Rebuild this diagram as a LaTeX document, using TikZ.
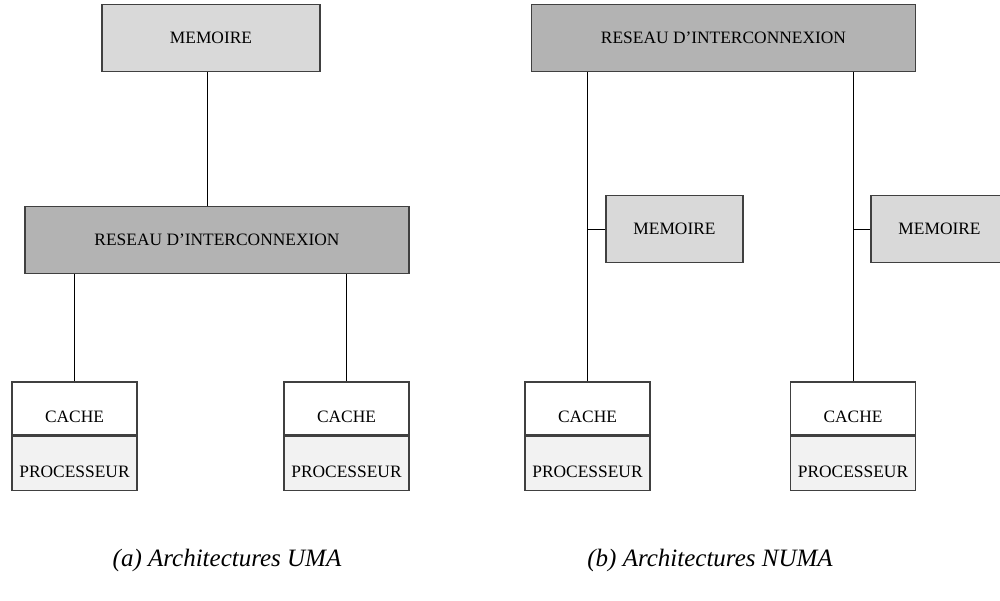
\documentclass[tikz,border=0pt]{standalone}
\usepackage{fontspec}
\setmainfont{Liberation Serif}
\usetikzlibrary{positioning}
\definecolor{memgray}{HTML}{D9D9D9}
\definecolor{resgray}{HTML}{B3B3B3}
\definecolor{procgray}{HTML}{F2F2F2}
\definecolor{edgegray}{HTML}{404040}
\tikzset{
    boxn/.style = {rectangle, draw=edgegray, line width=0.8pt, inner sep=0pt, font=\fontsize{8.7}{10}\selectfont},
    memoire/.style = {boxn, fill=memgray, minimum height=33.5pt},
    reseau/.style = {boxn, fill=resgray, minimum width=192pt, minimum height=33.5pt},
    cachen/.style = {boxn, fill=white, minimum width=62.5pt, minimum height=26.5pt, text height=13.7pt, text depth=0pt},
    procn/.style = {boxn, fill=procgray, minimum width=62.5pt, minimum height=27pt, text height=13.7pt, text depth=0pt},
    wire/.style = {draw=black, line width=0.5pt},
    legende/.style = {font=\fontsize{12.5}{14}\selectfont\itshape}
}
\begin{document}
\begin{tikzpicture}[x=0.5pt,y=-0.5pt]
  \useasboundingbox (0,0) rectangle (1000,600);
  % (a) UMA
  \node[memoire, minimum width=109pt] (memA) at (211,38) {MEMOIRE};
  \node[reseau] (resA) at (217,240) {RESEAU D'INTERCONNEXION};
  \node[cachen] (cacheA) at (74.5,408.5) {CACHE};
  \node[procn, below=0pt of cacheA] (procA) {PROCESSEUR};
  \node[cachen] (cacheB) at (346.5,408.5) {CACHE};
  \node[procn, below=0pt of cacheB] (procB) {PROCESSEUR};
  \draw[wire] (memA.south -| 207,0) -- (resA.north -| 207,0);
  \draw[wire] (resA.south -| cacheA.north) -- (cacheA.north);
  \draw[wire] (resA.south -| cacheB.north) -- (cacheB.north);
  \node[legende] (legA) at (227,560) {(a) Architectures UMA};
  % (b) NUMA
  \node[reseau] (resB) at (723.5,38) {RESEAU D'INTERCONNEXION};
  \node[cachen] (cacheC) at (587.5,408.5) {CACHE};
  \node[procn, below=0pt of cacheC] (procC) {PROCESSEUR};
  \node[cachen] (cacheD) at (853,408.5) {CACHE};
  \node[procn, below=0pt of cacheD] (procD) {PROCESSEUR};
  \node[memoire, minimum width=68.5pt] (memC) at (674.5,229) {MEMOIRE};
  \node[memoire, minimum width=68.5pt] (memD) at (939.5,229) {MEMOIRE};
  \draw[wire] (resB.south -| cacheC.north) -- (cacheC.north);
  \draw[wire] (resB.south -| cacheD.north) -- (cacheD.north);
  \draw[wire] (memC.west) -- (memC.west -| cacheC.north);
  \draw[wire] (memD.west) -- (memD.west -| cacheD.north);
  \node[legende] (legB) at (710,560) {(b) Architectures NUMA};
\end{tikzpicture}
\end{document}
